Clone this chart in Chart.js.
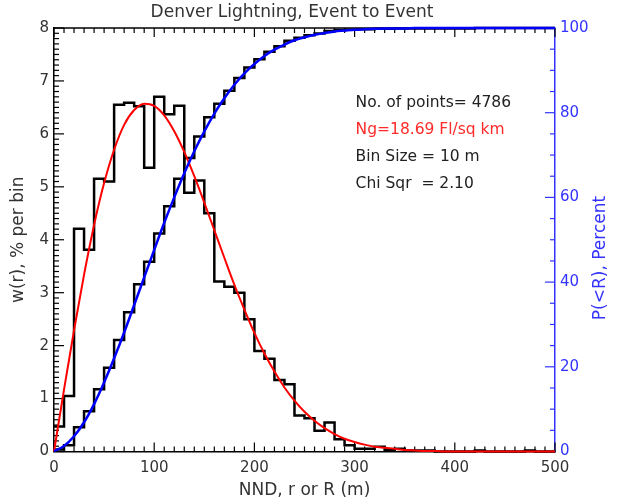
<!DOCTYPE html>
<html>
<head>
<meta charset="utf-8">
<script src="https://cdn.jsdelivr.net/npm/chart.js@4/dist/chart.umd.min.js"></script>
<style>
  html, body { margin: 0; padding: 0; background: #fff; }
  #wrap { width: 619px; height: 504px; }
</style>
</head>
<body>
<div id="wrap"><canvas id="nndChart" width="619" height="504"></canvas></div>
<script>
// DATA #######################################################################

var rMax = 500;

// histogram bins (left edge, m), bin size 10 m
var rBins = [0, 10, 20, 30, 40, 50, 60, 70, 80, 90,
             100, 110, 120, 130, 140, 150, 160, 170, 180, 190,
             200, 210, 220, 230, 240, 250, 260, 270, 280, 290,
             300, 310, 320, 330, 340, 350, 360, 370, 380, 390,
             400, 410, 420, 430, 440, 450, 460, 470, 480, 490];

// w(r), % per bin
var wPercent = [0.47, 1.05, 4.21, 3.81, 5.15, 5.10, 6.55, 6.59, 6.52, 5.36,
                6.70, 6.37, 6.53, 4.89, 5.12, 4.50, 3.21, 3.11, 3.00, 2.50,
                1.90, 1.75, 1.35, 1.27, 0.68, 0.63, 0.39, 0.55, 0.23, 0.12,
                0.05, 0.05, 0.09, 0.03, 0.05, 0.02, 0.02, 0.02, 0, 0,
                0, 0, 0.02, 0, 0, 0, 0, 0.02, 0, 0];

// P(<R), percent (observed, per bin)
var cumPercent = [0.5, 1.5, 5.7, 9.5, 14.7, 19.8, 26.3, 32.9, 39.5, 44.8,
                  51.5, 57.9, 64.4, 69.3, 74.4, 78.9, 82.1, 85.2, 88.2, 90.7,
                  92.6, 94.4, 95.7, 97.0, 97.7, 98.3, 98.7, 99.3, 99.5, 99.6,
                  99.7, 99.7, 99.8, 99.8, 99.9, 99.9, 99.9, 99.9, 99.9, 99.9,
                  99.9, 99.9, 100, 100, 100, 100, 100, 100, 100, 100];

// fitted curves, sampled every 10 m
var rCurve = [0, 10, 20, 30, 40, 50, 60, 70, 80, 90,
              100, 110, 120, 130, 140, 150, 160, 170, 180, 190,
              200, 210, 220, 230, 240, 250, 260, 270, 280, 290,
              300, 310, 320, 330, 340, 350, 360, 370, 380, 390,
              400, 410, 420, 430, 440, 450, 460, 470, 480, 490, 500];

var wFit = [0, 1.17, 2.29, 3.34, 4.28, 5.07, 5.70, 6.17, 6.45, 6.57,
            6.53, 6.35, 6.05, 5.66, 5.20, 4.70, 4.18, 3.66, 3.15, 2.68,
            2.24, 1.85, 1.51, 1.21, 0.96, 0.75, 0.58, 0.44, 0.33, 0.24,
            0.18, 0.13, 0.09, 0.07, 0.05, 0.03, 0.02, 0.01, 0.01, 0,
            0, 0, 0, 0, 0, 0, 0, 0, 0, 0, 0];

var pFit = [0.1, 1.3, 3.6, 6.9, 11.2, 16.3, 22.0, 28.1, 34.6, 41.1,
            47.6, 54.0, 60.0, 65.7, 70.9, 75.6, 79.8, 83.4, 86.6, 89.3,
            91.5, 93.4, 94.9, 96.1, 97.1, 97.8, 98.4, 98.8, 99.2, 99.4,
            99.6, 99.7, 99.8, 99.9, 99.9, 99.9, 100, 100, 100, 100,
            100, 100, 100, 100, 100, 100, 100, 100, 100, 100, 100];

var chartTitle = "Denver Lightning, Event to Event";
var rightTitle = "P(<R), Percent";

var infoLines = [
    {text: "No. of points= 4786", color: "#222"},
    {text: "Ng=18.69 Fl/sq km", color: "#ff2a2a"},
    {text: "Bin Size = 10 m", color: "#222"},
    {text: "Chi Sqr  = 2.10", color: "#222"}
];

var BLUE = "#3333ff";
var TEXT = "#333";

// HELPERS ####################################################################

function stepPoints(values) {
    var pts = rBins.map(function (r, i) { return {x: r, y: values[i]}; });
    pts.push({x: rMax, y: values[values.length - 1]});
    return pts;
}

function curvePoints(values) {
    return rCurve.map(function (r, i) { return {x: r, y: values[i]}; });
}

// ticks, top axis, titles, info text
var idlAxes = {
    id: 'idlAxes',
    beforeDatasetsDraw: function (chart) {
        var ctx = chart.ctx, a = chart.chartArea;
        var x = chart.scales.x, y = chart.scales.y, y2 = chart.scales.y2;
        function seg(x1, y1, x2, y2_) {
            ctx.beginPath(); ctx.moveTo(x1, y1); ctx.lineTo(x2, y2_); ctx.stroke();
        }
        ctx.save();
        ctx.lineWidth = 1.5;
        ctx.strokeStyle = "#000";
        seg(a.left, a.top, a.right, a.top);
        ctx.lineWidth = 1.2;
        for (var v = 0; v <= rMax; v += 10) {
            var px = x.getPixelForValue(v);
            var len = v % 100 === 0 ? 9 : 5;
            seg(px, a.bottom, px, a.bottom - len);
            seg(px, a.top, px, a.top + len);
        }
        for (var k = 0; k <= 80; k++) {
            var py = y.getPixelForValue(k / 10);
            seg(a.left, py, a.left + (k % 10 === 0 ? 10 : 5), py);
        }
        ctx.strokeStyle = BLUE;
        for (var p = 0; p <= 100; p += 5) {
            var qy = y2.getPixelForValue(p);
            seg(a.right, qy, a.right - (p % 20 === 0 ? 10 : 5), qy);
        }
        ctx.restore();
    },
    afterDraw: function (chart) {
        var ctx = chart.ctx;
        var x = chart.scales.x, y = chart.scales.y;
        ctx.save();
        // title
        ctx.font = "17px 'DejaVu Sans'";
        ctx.fillStyle = TEXT;
        ctx.textAlign = "center";
        ctx.textBaseline = "middle";
        ctx.fillText(chartTitle, 292, 13);
        // info box
        ctx.font = "15.5px 'DejaVu Sans'";
        ctx.textAlign = "left";
        ctx.textBaseline = "alphabetic";
        var x0 = x.getPixelForValue(300) + 1;
        infoLines.forEach(function (l, i) {
            ctx.fillStyle = l.color;
            ctx.fillText(l.text, x0, y.getPixelForValue(6.5 - i * 0.505));
        });
        // right axis title reads bottom to top
        ctx.translate(601, 258);
        ctx.rotate(-Math.PI / 2);
        ctx.textAlign = "center";
        ctx.textBaseline = "middle";
        ctx.fillStyle = BLUE;
        ctx.font = "17px 'DejaVu Sans'";
        ctx.fillText(rightTitle, 0, 0);
        ctx.restore();
    }
};

// CHART ######################################################################

Chart.defaults.font.family = "'DejaVu Sans', sans-serif";
Chart.defaults.color = TEXT;

var nndChart = new Chart(document.getElementById("nndChart"), {
    type: 'line',
    data: {
        datasets: [
            {
                label: "P(<R) fit",
                data: curvePoints(pFit),
                yAxisID: 'y2',
                borderColor: "#0000ff",
                borderWidth: 2.5,
                pointRadius: 0,
                cubicInterpolationMode: 'monotone',
                clip: false,
                order: 1
            },
            {
                label: "w(r) fit",
                data: curvePoints(wFit),
                yAxisID: 'y',
                borderColor: "#ff0000",
                borderWidth: 2,
                pointRadius: 0,
                cubicInterpolationMode: 'monotone',
                clip: false,
                order: 2
            },
            {
                label: "P(<R)",
                data: stepPoints(cumPercent),
                yAxisID: 'y2',
                borderColor: "#000",
                borderWidth: 2.5,
                pointRadius: 0,
                stepped: true,
                clip: false,
                order: 3
            },
            {
                label: "w(r)",
                data: stepPoints(wPercent),
                yAxisID: 'y',
                borderColor: "#000",
                borderWidth: 2.5,
                pointRadius: 0,
                stepped: true,
                clip: false,
                order: 4
            }
        ]
    },
    options: {
        responsive: false,
        animation: false,
        events: [],
        layout: {padding: {top: 28}},
        plugins: {
            legend: {display: false},
            tooltip: {enabled: false},
            title: {display: false}
        },
        scales: {
            x: {
                type: 'linear',
                min: 0,
                max: rMax,
                ticks: {stepSize: 100, padding: 8, font: {size: 15}, color: TEXT, maxRotation: 0},
                grid: {drawOnChartArea: false, drawTicks: false},
                border: {color: "#000", width: 1.5},
                title: {display: true, text: "NND, r or R (m)", color: TEXT,
                        font: {size: 17}, padding: {top: 0, bottom: 3}},
                afterFit: function (s) { s.height = 52.5; }
            },
            y: {
                position: 'left',
                min: 0,
                max: 8,
                ticks: {stepSize: 1, padding: 5, font: {size: 15}, color: TEXT},
                grid: {drawOnChartArea: false, drawTicks: false},
                border: {color: "#000", width: 1.5},
                title: {display: true, text: "w(r), % per bin", color: TEXT,
                        font: {size: 17}, padding: {top: 8, bottom: 0}},
                afterFit: function (s) { s.width = 54; }
            },
            y2: {
                position: 'right',
                min: 0,
                max: 100,
                ticks: {stepSize: 20, padding: 5, font: {size: 15}, color: BLUE},
                grid: {drawOnChartArea: false, drawTicks: false},
                border: {color: BLUE, width: 1.5},
                afterFit: function (s) { s.width = 64; }
            }
        }
    },
    plugins: [idlAxes]
});
</script>
</body>
</html>
